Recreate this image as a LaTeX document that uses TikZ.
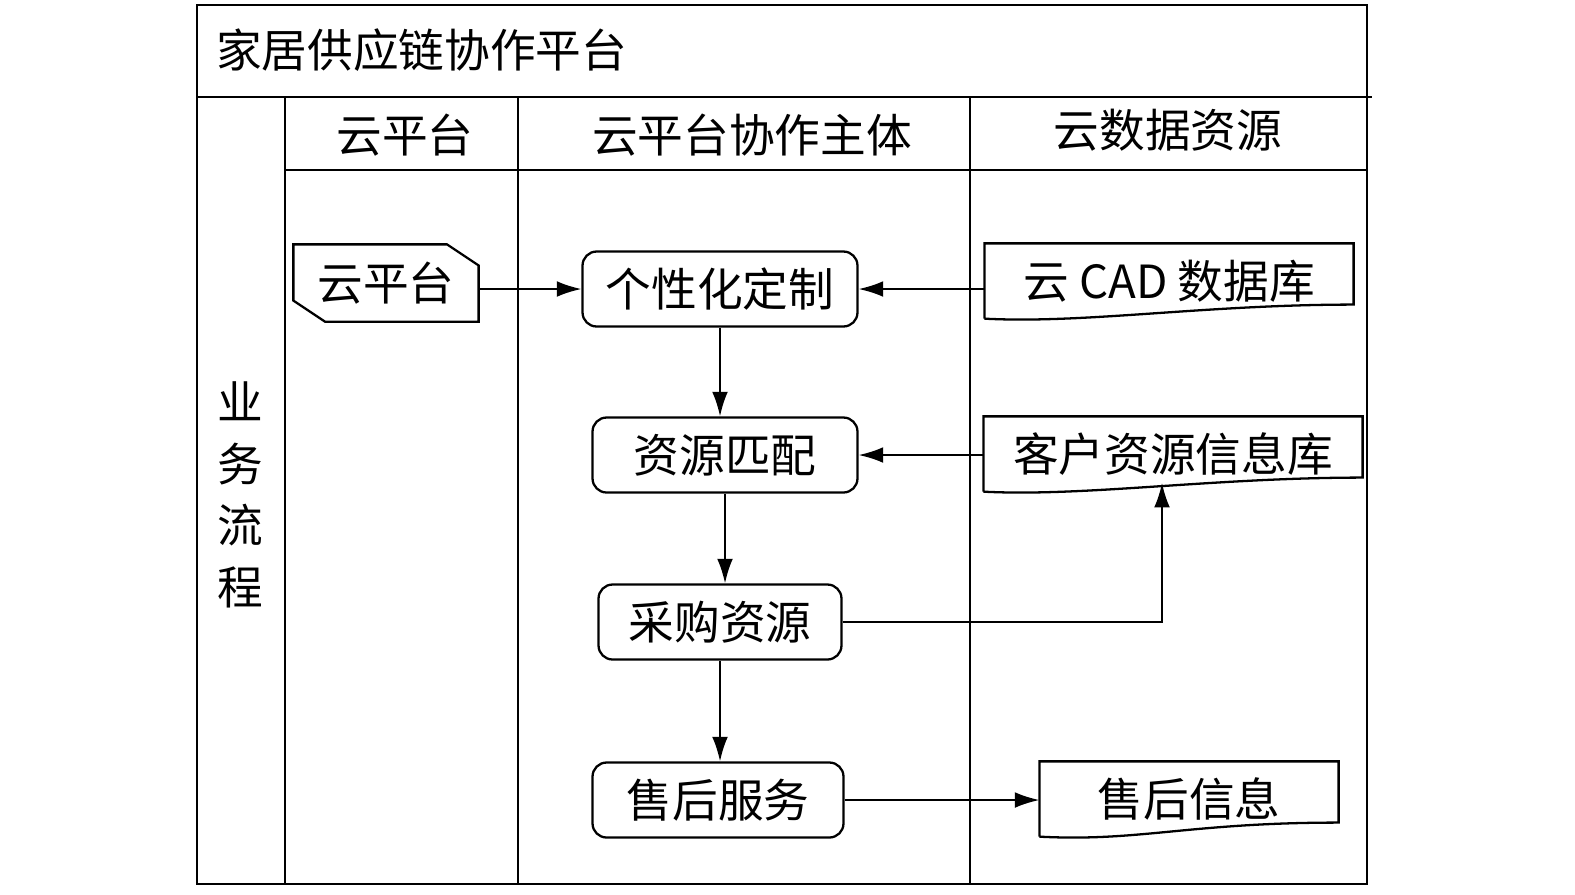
\documentclass[tikz,border=0pt]{standalone}
\usepackage{fontspec}
\setmainfont{Liberation Serif}
\newfontfamily\cjk{Noto Sans CJK SC}
\usetikzlibrary{positioning, arrows.meta}
\begin{document}
\begin{tikzpicture}[>=latex, x=0.02cm, y=-0.02cm, line width=1.3pt]
    \tikzset{
        txt/.style={font=\cjk\fontsize{26}{29}\selectfont, inner sep=0pt},
        proc/.style={txt, draw, rounded corners=8pt, minimum height=1.5cm},
        docu/.style={txt, minimum height=1.46cm},
        flow/.style={->, line width=1.1pt, >={Latex[length=14pt,width=9pt]}}
    };
    \useasboundingbox (0,0) rectangle (1575,894);
    % frame and lanes
    \draw (197,5) rectangle (1367,884);
    \draw (197,97) -- (1372,97);
    \draw (285,97) -- (285,884);
    \draw (518,97) -- (518,884);
    \draw (970,97) -- (970,884);
    \draw (285,170) -- (1367,170);
    \node[txt, anchor=west] (title) at (215,50) {家居供应链协作平台};
    \node[txt] (hcloud) at (405,135) {云平台};
    \node[txt] (hmain) at (752,135) {云平台协作主体};
    \node[txt] (hdata) at (1168,130) {云数据资源};
    \node[txt, align=center] (lane) at (240,495) {业\\[6pt]务\\[6pt]流\\[6pt]程};
    % cloud platform tag
    \node[txt, minimum width=3.66cm, minimum height=1.5cm] (cloud) at (386,283) {云平台};
    \draw (cloud.north west) -- ([xshift=-18pt]cloud.north east) -- ([yshift=-12pt]cloud.north east)
        -- (cloud.south east) -- ([xshift=18pt]cloud.south west) -- ([yshift=12pt]cloud.south west) -- cycle;
    % process steps
    \node[proc, minimum width=5.5cm] (custom) at (720,289) {个性化定制};
    \node[proc, minimum width=5.3cm] (match) at (725,455) {资源匹配};
    \node[proc, minimum width=4.86cm] (buy) at (720,622) {采购资源};
    \node[proc, minimum width=5.02cm] (service) at (718,800) {售后服务};
    % data documents
    \node[docu, minimum width=7.34cm] (cad) at (1169,281) {云 CAD 数据库};
    \node[docu, minimum width=7.54cm] (client) at (1173,454) {客户资源信息库};
    \node[docu, minimum width=5.94cm] (info) at (1189,799) {售后信息};
    \foreach \d in {cad, client, info} {
        \draw (\d.south west) -- (\d.north west) -- (\d.north east) -- ([yshift=8pt]\d.south east)
            .. controls ([xshift=-3cm,yshift=8pt]\d.south east) and ([xshift=2cm,yshift=-3pt]\d.south west) .. (\d.south west);
    }
    % connectors
    \draw[flow] (cloud.east |- custom) -- (custom);
    \draw[flow] (custom.east -| cad.west) -- (custom.east);
    \draw[flow] (custom) -- (custom |- match.north);
    \draw[flow] (match.east -| client.west) -- (match.east);
    \draw[flow] (match) -- (match |- buy.north);
    \draw[flow] (buy.east) -| ([xshift=-0.22cm,yshift=5pt]client.south);
    \draw[flow] (buy) -- (buy |- service.north);
    \draw[flow] (service.east) -- (service.east -| info.west);
\end{tikzpicture}
\end{document}
